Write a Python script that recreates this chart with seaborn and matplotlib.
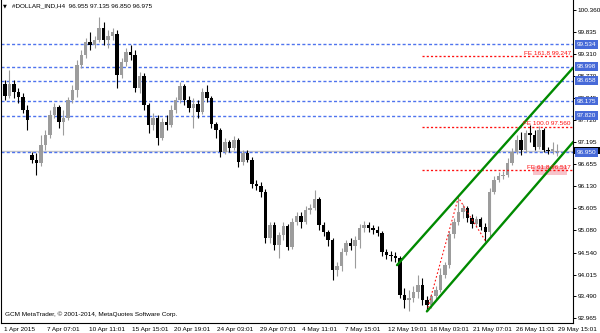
import numpy as np
import pandas as pd
import matplotlib
matplotlib.use("Agg")
import matplotlib.pyplot as plt
import matplotlib.transforms as mtransforms
from matplotlib.patches import Rectangle
import seaborn as sns

# ---------------- data ----------------
symbol = "#DOLLAR_IND,H4"
last_ohlc = [96.955, 97.135, 96.850, 96.975]
copyright_text = "GCM MetaTrader, \u00a9 2001-2014, MetaQuotes Software Corp."

opens = [
    98.58, 98.30, 98.58, 98.39, 98.27, 97.96, 96.88, 96.76, 96.69, 97.12,
    97.36, 97.84, 98.03, 97.67, 97.77, 98.20, 98.44, 99.04, 99.28, 99.59,
    99.52, 99.64, 99.93, 99.64, 99.74, 99.78, 98.80, 99.11, 99.35, 99.28,
    98.49, 98.78, 98.08, 97.60, 97.77, 97.29, 97.67, 97.60, 97.96, 98.20,
    98.54, 98.20, 98.01, 98.10, 97.91, 98.39, 98.25, 97.62, 97.48, 96.95,
    97.19, 97.05, 97.24, 96.71, 96.93, 96.76, 96.18, 96.14, 95.99, 94.89,
    95.20, 94.72, 94.96, 95.18, 94.67, 95.27, 95.42, 95.27, 95.56, 95.61,
    95.82, 95.20, 95.03, 94.84, 94.12, 94.22, 94.55, 94.77, 94.70, 94.84,
    95.13, 95.20, 95.13, 95.08, 95.01, 94.55, 94.48, 94.46, 94.41, 93.52,
    93.40, 93.45, 93.59, 93.76, 93.40, 93.28, 93.50, 93.64, 94.00, 94.24,
    94.98, 95.27, 95.51, 95.61, 95.37, 95.22, 95.34, 95.15, 95.03, 95.99,
    96.28, 96.38, 96.40, 96.69, 96.95, 97.24, 97.00, 97.41, 97.36, 97.07,
    97.48, 97.00, 96.98, 96.955]
highs = [
    98.68, 98.92, 98.68, 98.49, 98.37, 98.08, 96.95, 96.93, 97.36, 97.48,
    97.96, 98.13, 98.08, 97.96, 98.27, 98.56, 99.16, 99.40, 99.69, 99.83,
    99.74, 100.19, 100.07, 99.88, 99.93, 99.88, 99.21, 99.45, 99.52, 99.40,
    98.87, 98.85, 98.13, 97.89, 97.84, 97.77, 97.84, 98.08, 98.27, 98.63,
    98.58, 98.30, 98.25, 98.20, 98.49, 98.56, 98.30, 97.67, 97.53, 97.29,
    97.24, 97.34, 97.29, 97.00, 97.00, 96.83, 96.28, 96.23, 96.06, 95.27,
    95.27, 95.03, 95.27, 95.22, 95.37, 95.51, 95.51, 95.66, 95.70, 96.04,
    95.87, 95.27, 95.08, 94.89, 94.31, 94.65, 94.84, 94.89, 94.94, 95.22,
    95.30, 95.27, 95.20, 95.18, 95.06, 94.62, 94.58, 94.55, 94.46, 93.69,
    93.64, 93.74, 94.00, 93.93, 93.50, 93.54, 93.74, 94.17, 94.31, 95.06,
    95.37, 95.86, 95.70, 95.66, 95.46, 95.42, 95.39, 95.25, 96.09, 96.38,
    96.47, 96.50, 96.81, 97.05, 97.36, 97.43, 97.48, 97.60, 97.48, 97.58,
    97.53, 97.07, 97.19, 97.135]
lows = [
    98.20, 98.25, 98.25, 98.13, 97.89, 97.48, 96.69, 96.40, 96.62, 97.00,
    97.29, 97.77, 97.53, 97.36, 97.72, 98.13, 98.27, 98.97, 99.21, 99.40,
    99.45, 99.59, 99.52, 99.45, 99.64, 98.49, 98.73, 99.02, 99.16, 98.39,
    98.37, 97.96, 97.41, 97.48, 97.12, 97.24, 97.48, 97.55, 97.89, 98.13,
    98.08, 97.91, 97.53, 97.77, 97.86, 98.15, 97.53, 97.29, 96.83, 96.90,
    96.95, 97.00, 96.59, 96.64, 96.71, 96.09, 96.04, 95.87, 94.77, 94.77,
    94.60, 94.41, 94.84, 94.60, 94.62, 95.20, 95.13, 95.22, 95.46, 95.56,
    95.08, 94.94, 94.70, 93.88, 93.98, 94.10, 94.48, 94.60, 94.17, 94.65,
    95.03, 95.03, 94.98, 94.94, 94.46, 94.38, 94.34, 94.31, 93.45, 93.21,
    93.13, 93.35, 93.45, 93.28, 93.13, 93.21, 93.40, 93.59, 93.93, 94.17,
    94.89, 95.20, 95.37, 95.27, 95.13, 95.15, 95.08, 94.83, 94.94, 95.94,
    96.23, 96.30, 96.35, 96.64, 96.90, 96.88, 96.95, 97.19, 97.00, 97.02,
    96.95, 96.90, 96.90, 96.850]
closes = [
    98.30, 98.58, 98.39, 98.27, 97.96, 97.72, 96.76, 96.69, 97.12, 97.36,
    97.84, 98.03, 97.67, 97.77, 98.20, 98.44, 99.04, 99.28, 99.59, 99.52,
    99.64, 99.93, 99.64, 99.74, 99.83, 98.80, 99.11, 99.35, 99.28, 98.49,
    98.78, 98.08, 97.60, 97.77, 97.29, 97.67, 97.60, 97.96, 98.20, 98.54,
    98.20, 98.01, 98.10, 97.91, 98.39, 98.25, 97.62, 97.48, 96.95, 97.19,
    97.05, 97.24, 96.71, 96.93, 96.76, 96.18, 96.14, 95.99, 94.89, 95.20,
    94.72, 94.96, 95.18, 94.67, 95.27, 95.42, 95.27, 95.56, 95.61, 95.82,
    95.20, 95.03, 94.84, 94.12, 94.22, 94.55, 94.77, 94.70, 94.84, 95.13,
    95.20, 95.13, 95.08, 95.01, 94.55, 94.48, 94.46, 94.41, 93.52, 93.40,
    93.45, 93.59, 93.76, 93.40, 93.28, 93.50, 93.64, 94.00, 94.24, 94.98,
    95.27, 95.51, 95.61, 95.37, 95.22, 95.34, 95.15, 95.03, 95.99, 96.28,
    96.38, 96.40, 96.69, 96.95, 97.24, 97.00, 97.41, 97.36, 97.07, 97.48,
    97.00, 96.98, 97.02, 96.975]

bar_step = 2  # each drawn candle spans two H4 periods
tick_bars = [0, 19, 38, 57, 76, 95, 114, 133, 152, 171, 190, 209, 228, 247]
tick_labels = ["1 Apr 2015", "7 Apr 07:01", "10 Apr 11:01", "15 Apr 15:01",
               "20 Apr 19:01", "24 Apr 03:01", "29 Apr 07:01", "4 May 11:01",
               "7 May 15:01", "12 May 19:01", "18 May 03:01", "21 May 07:01",
               "26 May 11:01", "29 May 15:01"]
price_ticks = [100.360, 99.835, 99.310, 98.770, 98.245, 97.720, 97.195, 96.655,
               96.130, 95.605, 95.080, 94.540, 94.015, 93.490, 92.965]

level_prices = [99.534, 98.998, 98.658, 98.175, 97.820, 96.950]
bid_price = 96.975

fe_names = ["161.8", "100.0", "61.8"]
fe_prices = [99.247, 97.560, 96.517]
fe_start_bar = 187
fe_point_bars = [189, 203, 215]
fe_point_prices = [93.13, 95.86, 94.83]

upper_bars = [175.7, 254.1]
upper_prices = [94.24, 98.97]
lower_bars = [189.0, 254.3]
lower_prices = [93.13, 97.20]

pink_bars = [236.3, 251.5]
pink_prices = [96.40, 96.62]

x_limits = [-0.76, 254.1]
y_limits = [92.852, 100.598]

# ---------------- style ----------------
sns.set_style("white")
plt.rcParams['font.family'] = ['Liberation Sans', 'DejaVu Sans']
FS = 4.6

up_col = '#9c9c9c'
dn_col = '#000000'
blue_line = '#4f74ee'
blue_box = '#476ad8'
red = '#ff1010'
green = '#008a00'

fig = plt.figure(figsize=(6, 3.33), dpi=100)
fig.patch.set_facecolor('white')
ax = fig.add_axes([1/600, 10/333, 572/600, 323/333])
ax.set_facecolor('white')
ax.set_xlim(*x_limits)
ax.set_ylim(*y_limits)

df = pd.DataFrame({"open": opens, "high": highs, "low": lows, "close": closes})
df["pos"] = np.arange(len(df)) * bar_step + 1
df["up"] = df["close"] >= df["open"]
df["bottom"] = df[["open", "close"]].min(axis=1)
df["height"] = (df["close"] - df["open"]).abs().clip(lower=0.025)
cols = np.where(df["up"], up_col, dn_col)

# horizontal levels
for p in level_prices:
    ax.axhline(p, color=blue_line, lw=1.0, ls=(0, (2.2, 1.6)), zorder=1.2)
ax.axhline(bid_price, color='#c8c8c8', lw=1.0, zorder=1.1)

# candles
ax.vlines(df["pos"], df["low"], df["high"], colors=cols, lw=0.8, zorder=2)
ax.bar(df["pos"], df["height"], bottom=df["bottom"], width=1.55, color=cols,
       linewidth=0, zorder=2.1)

# pink label rectangle
ax.add_patch(Rectangle((pink_bars[0], pink_prices[0]), pink_bars[1] - pink_bars[0],
                       pink_prices[1] - pink_prices[0], facecolor='#f7c3ca',
                       edgecolor='none', zorder=2.5))

# fibonacci expansion levels
for name, p in zip(fe_names, fe_prices):
    ax.plot([fe_start_bar, x_limits[1]], [p, p], color=red, lw=0.95,
            ls=(0, (1.6, 1.6)), zorder=3)
    ax.annotate(f"FE {name} {p:.3f}", xy=(x_limits[1], p), xytext=(-1.5, 0.4),
                textcoords='offset points', ha='right', va='bottom',
                color=red, fontsize=FS, zorder=4)
fe_df = pd.DataFrame({"bar": fe_point_bars, "price": fe_point_prices})
sns.lineplot(data=fe_df, x="bar", y="price", ax=ax, color=red, lw=0.8,
             sort=False, zorder=3, linestyle=(0, (1.5, 2)))

# channel lines
ch = pd.DataFrame({"bar": upper_bars + lower_bars,
                   "price": upper_prices + lower_prices,
                   "line": ["upper"] * 2 + ["lower"] * 2})
sns.lineplot(data=ch, x="bar", y="price", units="line", estimator=None,
             ax=ax, color=green, lw=1.7, zorder=3.5)
ax.set_xlabel("")
ax.set_ylabel("")

# axes / ticks
ax.spines['top'].set_visible(False)
for s in ['left', 'bottom', 'right']:
    ax.spines[s].set_color('#000000')
    ax.spines[s].set_linewidth(0.8)

ax.set_xticks(tick_bars)
ax.set_xticklabels(tick_labels)
ax.tick_params(axis='x', direction='out', length=2.4, width=0.7, pad=0.8,
               labelsize=FS, colors='#000000')
shift = mtransforms.ScaledTranslation(1.2/100, 0, fig.dpi_scale_trans)
for lab in ax.get_xticklabels():
    lab.set_horizontalalignment('left')
    lab.set_transform(lab.get_transform() + shift)

ax.yaxis.tick_right()
ax.set_yticks(price_ticks)
ax.set_yticklabels([f"{p:.3f}" for p in price_ticks])
ax.tick_params(axis='y', direction='out', length=2.2, width=0.7, pad=1.2,
               labelsize=FS, colors='#000000')
ax.grid(False)

# current-bid marker (mostly hidden behind the 96.950 box)
ax.add_patch(Rectangle((573/600, 1 - 154/333), 27/600, 7/333,
                       transform=fig.transFigure, facecolor='#000000',
                       edgecolor='none', clip_on=False, zorder=4.9))

# price boxes on the right scale
trans = mtransforms.blended_transform_factory(ax.transAxes, ax.transData)
off = mtransforms.ScaledTranslation(3.6/100, 0, fig.dpi_scale_trans)
for p in level_prices:
    ax.text(1.0, p, f"{p:.3f}", transform=trans + off, ha='left', va='center',
            fontsize=FS, color='white', clip_on=False, zorder=6,
            bbox=dict(boxstyle='square,pad=0.3', fc=blue_box, ec='none'))

# header and copyright
fig.text(3/600, 1 - 6.3/333, "\u25bc", fontsize=3.6, color='#000000',
         va='center', ha='left', family=['DejaVu Sans'])
fig.text(12/600, 1 - 6/333, f"{symbol}  " + " ".join(f"{v:.3f}" for v in last_ohlc),
         fontsize=FS, color='#000000', va='center', ha='left')
fig.text(5/600, 1 - 314/333, copyright_text, fontsize=FS, color='#000000',
         va='center', ha='left')

fig.savefig("out.png", dpi=100, facecolor='white')
